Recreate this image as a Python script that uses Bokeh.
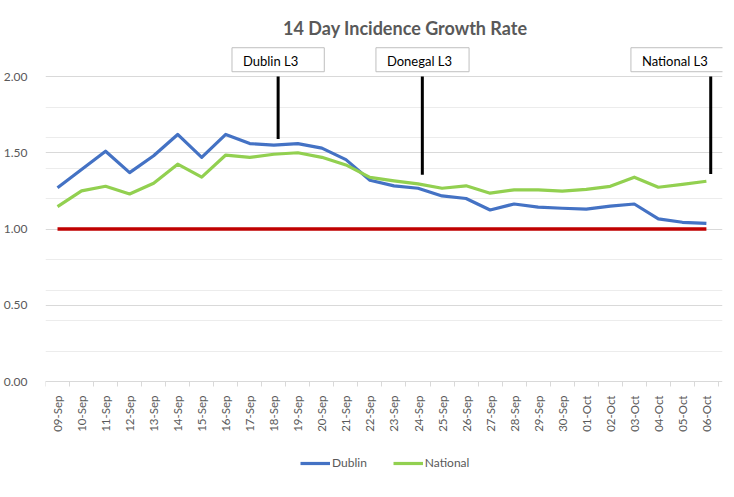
from bokeh.plotting import figure
from bokeh.models import (FixedTicker, NumeralTickFormatter, Label, Legend, LegendItem, Range1d)
from bokeh.embed import file_html
from bokeh.resources import INLINE
import math

# ---------------- data ----------------
dates = ["09-Sep", "10-Sep", "11-Sep", "12-Sep", "13-Sep", "14-Sep", "15-Sep",
         "16-Sep", "17-Sep", "18-Sep", "19-Sep", "20-Sep", "21-Sep", "22-Sep",
         "23-Sep", "24-Sep", "25-Sep", "26-Sep", "27-Sep", "28-Sep", "29-Sep",
         "30-Sep", "01-Oct", "02-Oct", "03-Oct", "04-Oct", "05-Oct", "06-Oct"]

dublin = [1.27, 1.39, 1.51, 1.37, 1.48, 1.62, 1.47, 1.62, 1.56, 1.55, 1.56, 1.53,
          1.455, 1.32, 1.283, 1.267, 1.217, 1.20, 1.125, 1.164, 1.143, 1.136,
          1.13, 1.15, 1.164, 1.066, 1.044, 1.037]

national = [1.147, 1.25, 1.28, 1.23, 1.30, 1.425, 1.34, 1.485, 1.47, 1.49, 1.50,
            1.47, 1.42, 1.338, 1.316, 1.296, 1.267, 1.283, 1.235, 1.257, 1.257,
            1.248, 1.26, 1.28, 1.34, 1.274, 1.293, 1.313]

threshold = 1.0

# annotation events: label, date, bottom value of marker line
event_labels = ["Dublin L3", "Donegal L3", "National L3"]
event_dates = ["18-Sep", "24-Sep", "06-Oct"]
event_bottoms = [1.59, 1.355, 1.36]

y_ticks = [0.0, 0.5, 1.0, 1.5, 2.0]
y_minor = [0.2, 0.4, 0.6, 0.8, 1.2, 1.4, 1.6, 1.8]

# ---------------- figure ----------------
FONT = "Lato"
GREY = "#595959"
n = len(dates)
idx = list(range(n))

PX = 152.5                      # pixels per unit on the value axis
Y_TOP = 2.0 + 76 / PX           # headroom for title and callouts
Y_BOT = -(497 - 381) / PX       # room for date labels and legend
X_PAD = 0.17                    # small room on the right for the last callout

p = figure(width=734, height=497, output_backend="svg", toolbar_location=None,
           x_range=Range1d(-0.5, n - 0.5 + X_PAD), y_range=Range1d(Y_BOT, Y_TOP),
           min_border_left=45, min_border_right=12, min_border_top=0,
           min_border_bottom=0)
p.outline_line_color = None
p.background_fill_color = "white"
p.border_fill_color = "white"

# grids
p.xgrid.grid_line_color = None
p.ygrid.ticker = FixedTicker(ticks=y_ticks, minor_ticks=y_minor)
p.ygrid.grid_line_color = "#d9d9d9"
p.ygrid.grid_line_width = 1
p.ygrid.minor_grid_line_color = "#ececec"
p.ygrid.minor_grid_line_width = 1

# y axis
p.yaxis.ticker = FixedTicker(ticks=y_ticks)
p.yaxis.formatter = NumeralTickFormatter(format="0.00")
p.yaxis.axis_line_color = None
p.yaxis.major_tick_line_color = None
p.yaxis.minor_tick_line_color = None
p.yaxis.major_label_standoff = 12
p.yaxis.major_label_text_font = FONT
p.yaxis.major_label_text_font_size = "12px"
p.yaxis.major_label_text_color = GREY

# x axis, drawn at value 0
xa = p.xaxis[0]
xa.fixed_location = 0
xa.bounds = (-0.5, n - 0.5)
xa.ticker = FixedTicker(ticks=idx, minor_ticks=[i - 0.5 for i in range(n + 1)])
xa.major_label_overrides = {i: d for i, d in enumerate(dates)}
xa.major_label_orientation = math.pi / 2
xa.axis_line_color = "#d9d9d9"
xa.major_tick_line_color = None
xa.major_tick_out = 0
xa.major_tick_in = 0
xa.minor_tick_line_color = "#d9d9d9"
xa.minor_tick_out = 5
xa.minor_tick_in = 0
xa.major_label_standoff = 9
xa.major_label_text_font = FONT
xa.major_label_text_font_size = "11.5px"
xa.major_label_text_color = GREY

# series
r_d = p.line(idx, dublin, line_color="#4472C4", line_width=3.2, line_join="round")
r_n = p.line(idx, national, line_color="#92D050", line_width=3.2, line_join="round")
p.line(idx, [threshold] * n, line_color="#C00000", line_width=3.5)

# event markers
ev_x = [dates.index(d) + 0.18 for d in event_dates]
p.segment(x0=ev_x, y0=[2.0] * len(ev_x), x1=ev_x, y1=event_bottoms,
          line_color="black", line_width=3)

box_offsets = [-1.92, -1.93, -3.32]   # callout box left edge relative to marker (layout)
box_right_pad = [26, 17, 17]
for lab, x, off, rp in zip(event_labels, ev_x, box_offsets, box_right_pad):
    p.add_layout(Label(x=x + off, y=2.11, text=lab, text_font=FONT,
                       text_font_size="13px", text_color="black",
                       text_align="left", text_baseline="middle",
                       border_line_color="#bfbfbf", border_line_width=1,
                       background_fill_color="white",
                       padding=dict(left=11, right=rp, top=5, bottom=3)))

# title
p.add_layout(Label(x=14.47, y=2.315, text="14 Day Incidence Growth Rate",
                   text_font=FONT, text_font_style="bold", text_font_size="18px",
                   text_color=GREY, text_align="center", text_baseline="middle"))

# legend
legend = Legend(items=[LegendItem(label="Dublin", renderers=[r_d]),
                       LegendItem(label="National", renderers=[r_n])],
                orientation="horizontal", location=(255, 27),
                glyph_width=30, glyph_height=14, label_standoff=2, spacing=26,
                padding=0, margin=0, border_line_color=None,
                background_fill_alpha=0, label_text_font=FONT,
                label_text_font_size="12px", label_text_color=GREY)
p.add_layout(legend, "center")

open("out.html", "w").write(file_html(p, INLINE))
